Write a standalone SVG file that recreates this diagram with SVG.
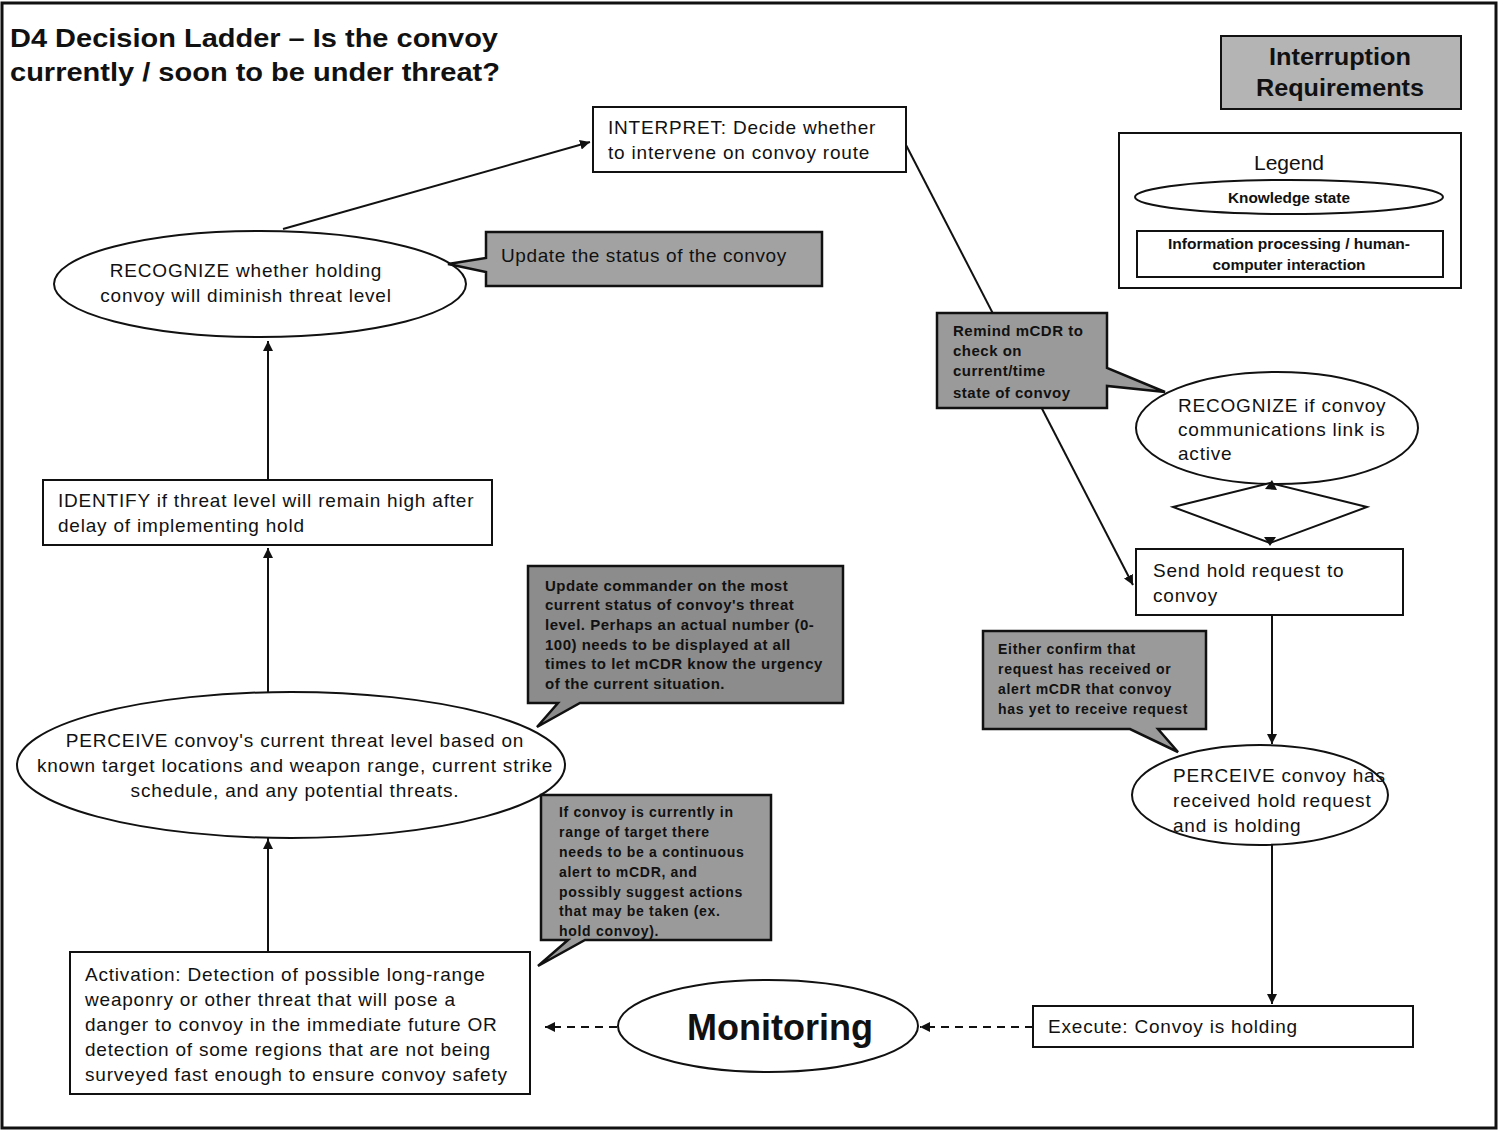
<svg xmlns="http://www.w3.org/2000/svg" width="1500" height="1132" viewBox="0 0 1500 1132">
<defs>
<marker id="ah" viewBox="0 0 10 10" refX="10" refY="5" markerWidth="10" markerHeight="10" markerUnits="userSpaceOnUse" orient="auto">
<path d="M0,0 L10,5 L0,10 z" fill="#111"/>
</marker>
<style>
.node{fill:#fff;stroke:#111;stroke-width:2}
.callout{stroke:#111;stroke-width:2.5}
.t{font-family:"Liberation Sans",Arial,sans-serif;font-size:19px;letter-spacing:0.8px;fill:#111}
.c{font-family:"Liberation Sans",Arial,sans-serif;font-size:15px;font-weight:bold;letter-spacing:0.5px;fill:#111}
.c14{font-family:"Liberation Sans",Arial,sans-serif;font-size:14px;font-weight:bold;letter-spacing:0.7px;fill:#111}
.ln{stroke:#111;stroke-width:2;fill:none}
.dash{stroke:#111;stroke-width:2;fill:none;stroke-dasharray:8,6}
</style>
</defs>
<rect x="0" y="0" width="1500" height="1132" fill="#fff"/>
<rect x="2" y="3" width="1494" height="1125" fill="none" stroke="#111" stroke-width="3"/>

<g id="title">
<text x="10" y="47" font-family="Liberation Sans,Arial,sans-serif" font-size="26" font-weight="bold" fill="#111" textLength="488" lengthAdjust="spacingAndGlyphs">D4 Decision Ladder – Is the convoy</text>
<text x="10" y="81" font-family="Liberation Sans,Arial,sans-serif" font-size="26" font-weight="bold" fill="#111" textLength="490" lengthAdjust="spacingAndGlyphs">currently / soon to be under threat?</text>
</g>

<g id="connectors">
<line class="ln" x1="283" y1="229" x2="590" y2="142" marker-end="url(#ah)"/>
<line class="ln" x1="268" y1="480" x2="268" y2="341" marker-end="url(#ah)"/>
<line class="ln" x1="268" y1="692" x2="268" y2="548" marker-end="url(#ah)"/>
<line class="ln" x1="268" y1="952" x2="268" y2="828" marker-end="url(#ah)"/>
<line class="ln" x1="906" y1="145" x2="1133" y2="585" marker-end="url(#ah)"/>
<line class="ln" x1="1272" y1="615" x2="1272" y2="744" marker-end="url(#ah)"/>
<line class="ln" x1="1272" y1="845" x2="1272" y2="1004" marker-end="url(#ah)"/>
<line class="dash" x1="1033" y1="1027" x2="920" y2="1027" marker-end="url(#ah)"/>
<line class="dash" x1="617" y1="1027" x2="545" y2="1027" marker-end="url(#ah)"/>
</g>

<g id="interruption">
<rect x="1221" y="36" width="240" height="73" fill="#b4b4b4" stroke="#111" stroke-width="2"/>
<text x="1340" y="65" text-anchor="middle" font-family="Liberation Sans,Arial,sans-serif" font-size="24" font-weight="bold" fill="#111" textLength="142" lengthAdjust="spacingAndGlyphs">Interruption</text>
<text x="1340" y="96" text-anchor="middle" font-family="Liberation Sans,Arial,sans-serif" font-size="24" font-weight="bold" fill="#111" textLength="168" lengthAdjust="spacingAndGlyphs">Requirements</text>
</g>

<g id="legend">
<rect x="1119" y="133" width="342" height="155" fill="#fff" stroke="#111" stroke-width="2"/>
<text x="1289" y="170" text-anchor="middle" font-family="Liberation Sans,Arial,sans-serif" font-size="21" fill="#111">Legend</text>
<ellipse cx="1289" cy="197" rx="154" ry="17" class="node"/>
<text x="1289" y="203" text-anchor="middle" font-family="Liberation Sans,Arial,sans-serif" font-size="14" font-weight="bold" fill="#111" textLength="122" lengthAdjust="spacingAndGlyphs">Knowledge state</text>
<rect x="1137" y="231" width="306" height="46" class="node"/>
<text x="1289" y="249" text-anchor="middle" font-family="Liberation Sans,Arial,sans-serif" font-size="14" font-weight="bold" fill="#111" textLength="242" lengthAdjust="spacingAndGlyphs">Information processing / human-</text>
<text x="1289" y="270" text-anchor="middle" font-family="Liberation Sans,Arial,sans-serif" font-size="14" font-weight="bold" fill="#111" textLength="153" lengthAdjust="spacingAndGlyphs">computer interaction</text>
</g>

<g id="interpret">
<rect x="593" y="107" width="313" height="65" class="node"/>
<text x="608" y="134" class="t">INTERPRET: Decide whether</text>
<text x="608" y="159" class="t">to intervene on convoy route</text>
</g>

<g id="recognize-hold">
<ellipse cx="260" cy="284" rx="206" ry="53" class="node"/>
<text x="246" y="277" text-anchor="middle" class="t">RECOGNIZE whether holding</text>
<text x="246" y="302" text-anchor="middle" class="t">convoy will diminish threat level</text>
</g>

<g id="callout-update-status">
<path d="M486,232 H822 V286 H486 V272 L448,264 L486,258 Z" fill="#a2a2a2" class="callout"/>
<text x="501" y="262" font-family="Liberation Sans,Arial,sans-serif" font-size="19" letter-spacing="0.6" fill="#111">Update the status of the convoy</text>
</g>

<g id="identify">
<rect x="43" y="480" width="449" height="65" class="node"/>
<text x="58" y="507" class="t">IDENTIFY if threat level will remain high after</text>
<text x="58" y="532" class="t">delay of implementing hold</text>
</g>

<g id="callout-threat-level">
<path d="M528,566 H843 V703 H580 L537,727 L558,703 H528 Z" fill="#8c8c8c" class="callout"/>
<text x="545" y="591" class="c">Update commander on the most</text>
<text x="545" y="610" class="c">current status of convoy's threat</text>
<text x="545" y="630" class="c">level.  Perhaps an actual number (0-</text>
<text x="545" y="650" class="c">100) needs to be displayed at all</text>
<text x="545" y="669" class="c">times to let mCDR know the urgency</text>
<text x="545" y="689" class="c">of the current situation.</text>
</g>

<g id="perceive-threat">
<ellipse cx="291" cy="765" rx="274" ry="73" class="node"/>
<text x="295" y="747" text-anchor="middle" class="t">PERCEIVE convoy's current threat level based on</text>
<text x="295" y="772" text-anchor="middle" class="t">known target locations and weapon range, current strike</text>
<text x="295" y="797" text-anchor="middle" class="t">schedule, and any potential threats.</text>
</g>
<path d="M263,849 L268,839 L273,849 Z" fill="#111"/>

<g id="callout-in-range">
<path d="M541,795 H771 V940 H585 L538,966 L568,940 H541 Z" fill="#9a9a9a" class="callout"/>
<text x="559" y="817" class="c14">If convoy is currently in</text>
<text x="559" y="837" class="c14">range of target there</text>
<text x="559" y="857" class="c14">needs to be a continuous</text>
<text x="559" y="877" class="c14">alert to mCDR, and</text>
<text x="559" y="897" class="c14">possibly suggest actions</text>
<text x="559" y="916" class="c14">that may be taken (ex.</text>
<text x="559" y="936" class="c14">hold convoy).</text>
</g>

<g id="activation">
<rect x="70" y="952" width="460" height="142" class="node"/>
<text x="85" y="981" class="t">Activation: Detection of possible long-range</text>
<text x="85" y="1006" class="t">weaponry or other threat that will pose a</text>
<text x="85" y="1031" class="t">danger to convoy in the immediate future OR</text>
<text x="85" y="1056" class="t">detection of some regions that are not being</text>
<text x="85" y="1081" class="t">surveyed fast enough to ensure convoy safety</text>
</g>

<g id="monitoring">
<ellipse cx="768" cy="1026" rx="150" ry="46" class="node"/>
<text x="780" y="1040" text-anchor="middle" font-family="Liberation Sans,Arial,sans-serif" font-size="36" font-weight="bold" fill="#111">Monitoring</text>
</g>

<g id="execute">
<rect x="1033" y="1006" width="380" height="41" class="node"/>
<text x="1048" y="1033" class="t">Execute: Convoy is holding</text>
</g>

<g id="callout-remind">
<path d="M937,313 H1107 V368 L1165,392 L1107,386 V408 H937 Z" fill="#9a9a9a" class="callout"/>
<text x="953" y="336" class="c">Remind mCDR to</text>
<text x="953" y="356" class="c">check on</text>
<text x="953" y="376" class="c">current/time</text>
<text x="953" y="398" class="c">state of convoy</text>
</g>

<g id="recognize-link">
<ellipse cx="1277" cy="428" rx="141" ry="56" class="node"/>
<text x="1178" y="412" class="t">RECOGNIZE if convoy</text>
<text x="1178" y="436" class="t">communications link is</text>
<text x="1178" y="460" class="t">active</text>
</g>

<g id="decision">
<polygon points="1173,507 1270,483 1367,507 1270,543" fill="#fff" stroke="#111" stroke-width="2"/>
<path d="M1265,489 L1272,480 L1277,490 Z" fill="#111"/>
<path d="M1264,537 L1270,546 L1276,537 Z" fill="#111"/>
</g>

<g id="send-hold">
<rect x="1136" y="549" width="267" height="66" class="node"/>
<text x="1153" y="577" class="t">Send hold request to</text>
<text x="1153" y="602" class="t">convoy</text>
</g>

<g id="callout-confirm">
<path d="M983,631 H1206 V729 H1158 L1178,752 L1130,729 H983 Z" fill="#9a9a9a" class="callout"/>
<text x="998" y="654" class="c14">Either confirm that</text>
<text x="998" y="674" class="c14">request has received or</text>
<text x="998" y="694" class="c14">alert mCDR that convoy</text>
<text x="998" y="714" class="c14">has yet to receive request</text>
</g>

<g id="perceive-holding">
<ellipse cx="1260" cy="795" rx="128" ry="50" class="node"/>
<text x="1173" y="782" class="t">PERCEIVE convoy has</text>
<text x="1173" y="807" class="t">received hold request</text>
<text x="1173" y="832" class="t">and is holding</text>
</g>
</svg>
